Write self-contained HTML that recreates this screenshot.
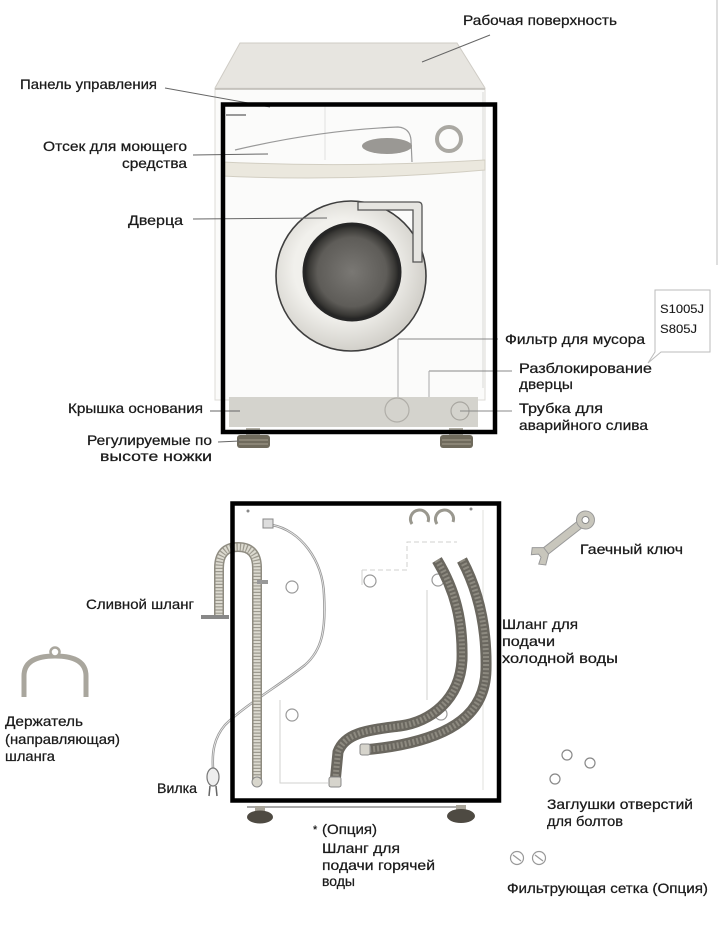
<!DOCTYPE html>
<html><head><meta charset="utf-8"><style>
html,body{margin:0;padding:0;background:#fff;}
svg{display:block;}
text{font-family:"Liberation Sans",Arial,sans-serif;fill:#1a1a1a;stroke:#1a1a1a;stroke-width:0.25;}
</style></head><body>
<svg width="720" height="925" viewBox="0 0 720 925" xmlns="http://www.w3.org/2000/svg">
<defs>
<radialGradient id="glass" cx="50%" cy="50%" r="50%">
<stop offset="0" stop-color="#7a7874"/><stop offset="0.72" stop-color="#5e5c58"/><stop offset="0.9" stop-color="#3a3936"/><stop offset="1" stop-color="#1e1e1e"/>
</radialGradient>
<radialGradient id="ring" cx="45%" cy="45%" r="55%">
<stop offset="0.6" stop-color="#f1f0ec"/><stop offset="1" stop-color="#d2d0ca"/>
</radialGradient>
</defs>
<rect width="720" height="925" fill="#fff"/>
<line x1="717" y1="0" x2="717" y2="265" stroke="#d4d4d4" stroke-width="1.5"/>

<!-- ===== TOP MACHINE ===== -->
<polygon points="240,43 457,43 485,88 215,88" fill="#e7e5e0" stroke="#cfccc5" stroke-width="1"/>
<rect x="215" y="88" width="270" height="312" fill="#fbfbfa" stroke="#dcdbd7" stroke-width="1"/>
<line x1="215" y1="89" x2="485" y2="89" stroke="#bdbab3" stroke-width="1.5"/>
<line x1="325" y1="106" x2="325" y2="160" stroke="#e2e2e0" stroke-width="1"/>
<rect x="226" y="114" width="20" height="2" fill="#999"/>
<line x1="483" y1="92" x2="483" y2="388" stroke="#d8d8d6" stroke-width="1"/>
<path d="M222,162 Q350,168 485,160 L485,170 Q350,182 222,176 Z" fill="#ebe8de" stroke="#d2cec2" stroke-width="1"/>
<path d="M235,150 Q320,130 398,127 Q410,128 411,140 L412,162" fill="none" stroke="#999" stroke-width="1.2"/>
<ellipse cx="387" cy="146" rx="25" ry="8" fill="#9a9894"/>
<circle cx="449" cy="139" r="12" fill="none" stroke="#aaa8a2" stroke-width="4"/>
<!-- door -->
<circle cx="351" cy="276" r="75" fill="url(#ring)" stroke="#3e3e3e" stroke-width="1.6"/>
<path d="M358,202 L418,202 Q422,202 422,206 L422,262 L413,262 L413,210 L358,210 Z" fill="#e6e5e1" stroke="#555" stroke-width="1.3"/>
<circle cx="352" cy="272" r="48" fill="url(#glass)" stroke="#262626" stroke-width="3"/>
<!-- lower details -->
<line x1="398" y1="339" x2="498" y2="339" stroke="#888" stroke-width="1"/>
<line x1="398" y1="339" x2="398" y2="398" stroke="#aaa" stroke-width="1"/>
<line x1="429" y1="371" x2="512" y2="371" stroke="#888" stroke-width="1"/>
<line x1="429" y1="371" x2="429" y2="414" stroke="#aaa" stroke-width="1"/>
<rect x="229" y="397" width="249" height="30" fill="#d4d3cd"/>
<circle cx="397" cy="410" r="12" fill="none" stroke="#b0aea8" stroke-width="1.2"/>
<circle cx="460" cy="411" r="9" fill="none" stroke="#a8a6a0" stroke-width="1.2"/>
<line x1="460" y1="411" x2="512" y2="411" stroke="#888" stroke-width="1"/>
<!-- feet -->
<rect x="246" y="428" width="14" height="8" fill="#b5b2a8"/>
<rect x="237" y="435" width="33" height="13" rx="3" fill="#6f6a5c"/>
<line x1="239" y1="440" x2="268" y2="440" stroke="#a49f8e" stroke-width="1"/>
<line x1="239" y1="444" x2="268" y2="444" stroke="#a49f8e" stroke-width="1"/>
<rect x="449" y="428" width="14" height="8" fill="#b5b2a8"/>
<rect x="440" y="435" width="33" height="13" rx="3" fill="#6f6a5c"/>
<line x1="442" y1="440" x2="471" y2="440" stroke="#a49f8e" stroke-width="1"/>
<line x1="442" y1="444" x2="471" y2="444" stroke="#a49f8e" stroke-width="1"/>

<g stroke="#666" stroke-width="1" fill="none">
<line x1="490" y1="35" x2="422" y2="62"/>
<line x1="165" y1="88" x2="270" y2="107"/>
<line x1="193" y1="155" x2="268" y2="154"/>
<line x1="193" y1="219" x2="327" y2="218"/>
<line x1="210" y1="411" x2="240" y2="411"/>
<line x1="218" y1="442" x2="240" y2="441"/>
</g>
<path d="M655,290 L710,290 L710,352 L661,352 L648,363 L655,352 Z" fill="#fff" stroke="#bbb" stroke-width="1"/>
<text x="660" y="313" font-size="12" textLength="44" lengthAdjust="spacingAndGlyphs" style="stroke-width:0.1">S1005J</text>
<text x="660" y="333" font-size="12" textLength="37" lengthAdjust="spacingAndGlyphs" style="stroke-width:0.1">S805J</text>

<g font-size="14">
<text x="463" y="25" textLength="154" lengthAdjust="spacingAndGlyphs">Рабочая поверхность</text>
<text x="20" y="89" textLength="137" lengthAdjust="spacingAndGlyphs">Панель управления</text>
<text x="43" y="151" textLength="144" lengthAdjust="spacingAndGlyphs">Отсек для моющего</text>
<text x="122" y="168" textLength="65" lengthAdjust="spacingAndGlyphs">средства</text>
<text x="128" y="225" textLength="55" lengthAdjust="spacingAndGlyphs">Дверца</text>
<text x="505" y="344" textLength="140" lengthAdjust="spacingAndGlyphs">Фильтр для мусора</text>
<text x="519" y="373" textLength="133" lengthAdjust="spacingAndGlyphs">Разблокирование</text>
<text x="519" y="389" textLength="54" lengthAdjust="spacingAndGlyphs">дверцы</text>
<text x="519" y="413" textLength="84" lengthAdjust="spacingAndGlyphs">Трубка для</text>
<text x="519" y="430" textLength="129" lengthAdjust="spacingAndGlyphs">аварийного слива</text>
<text x="68" y="413" textLength="135" lengthAdjust="spacingAndGlyphs">Крышка основания</text>
<text x="87" y="445" textLength="125" lengthAdjust="spacingAndGlyphs">Регулируемые по</text>
<text x="100" y="461" textLength="112" lengthAdjust="spacingAndGlyphs">высоте ножки</text>
</g>

<rect x="223" y="104.5" width="272" height="327.5" fill="none" stroke="#000" stroke-width="4.5"/>

<!-- ===== BOTTOM SECTION ===== -->
<line x1="483" y1="510" x2="483" y2="790" stroke="#e0e0de" stroke-width="1"/>
<line x1="247" y1="807" x2="463" y2="807" stroke="#aaa" stroke-width="2"/>
<g fill="none" stroke="#d2d2cf" stroke-width="1">
<path d="M362,570 L407,570 L407,542 L457,542" stroke-dasharray="5 3"/>
<line x1="427" y1="590" x2="427" y2="700"/>
<path d="M280,700 L280,783 L328,783"/>
<line x1="362" y1="570" x2="362" y2="585"/>
</g>
<circle cx="248" cy="511" r="1.5" fill="#888"/>
<circle cx="471" cy="509" r="1.5" fill="#888"/>
<g fill="none" stroke="#9a988f" stroke-width="3">
<path d="M412,524 A9,9 0 1 1 428,522"/>
<path d="M437,524 A9,9 0 1 1 453,522"/>
</g>
<g fill="#fff" stroke="#999" stroke-width="1.2">
<circle cx="292" cy="587" r="6"/>
<circle cx="370" cy="581" r="6"/>
<circle cx="438" cy="580" r="6"/>
<circle cx="292" cy="715" r="6"/>
<circle cx="441" cy="714" r="6"/>
</g>
<path d="M272,525 C300,530 323,560 324,595 C326,630 322,650 305,665 C280,685 245,705 225,725 C214,738 212,752 213,768" fill="none" stroke="#999" stroke-width="2.5"/>
<path d="M272,525 C300,530 323,560 324,595 C326,630 322,650 305,665 C280,685 245,705 225,725 C214,738 212,752 213,768" fill="none" stroke="#eee" stroke-width="0.8"/>
<rect x="263" y="519" width="10" height="9" fill="#ddd" stroke="#888" stroke-width="1"/>
<ellipse cx="213" cy="777" rx="6" ry="9" fill="#eee" stroke="#777" stroke-width="1.2"/>
<line x1="210" y1="786" x2="209" y2="796" stroke="#666" stroke-width="1.5"/>
<line x1="216" y1="786" x2="217" y2="796" stroke="#666" stroke-width="1.5"/>
<path d="M219,617 L219,568 Q219,547 238,547 Q257,547 257,568 L257,783" fill="none" stroke="#8e8b80" stroke-width="10"/>
<path d="M219,617 L219,568 Q219,547 238,547 Q257,547 257,568 L257,783" fill="none" stroke="#dcdad0" stroke-width="7"/>
<path d="M219,617 L219,568 Q219,547 238,547 Q257,547 257,568 L257,783" fill="none" stroke="#9c998e" stroke-width="7" stroke-dasharray="1.2 2"/>
<rect x="201" y="615" width="28" height="4" fill="#888"/>
<rect x="257" y="580" width="11" height="4" fill="#999"/>
<circle cx="257" cy="782" r="5" fill="#d8d6cc" stroke="#888" stroke-width="1"/>
<path d="M437,560 C455,590 463,620 462,660 C460,700 430,722 400,726 C370,730 345,732 338,752 L335,783" fill="none" stroke="#6a675f" stroke-width="11"/>
<path d="M437,560 C455,590 463,620 462,660 C460,700 430,722 400,726 C370,730 345,732 338,752 L335,783" fill="none" stroke="#8d8a80" stroke-width="6" stroke-dasharray="2 2"/>
<path d="M462,560 C478,590 487,625 486,670 C485,715 450,735 400,745 C385,748 375,749 363,750" fill="none" stroke="#6a675f" stroke-width="11"/>
<path d="M462,560 C478,590 487,625 486,670 C485,715 450,735 400,745 C385,748 375,749 363,750" fill="none" stroke="#8d8a80" stroke-width="6" stroke-dasharray="2 2"/>
<rect x="329" y="777" width="12" height="10" rx="2" fill="#d6d4cc" stroke="#888" stroke-width="1"/>
<rect x="360" y="744" width="10" height="11" rx="2" fill="#d6d4cc" stroke="#888" stroke-width="1"/>
<rect x="255" y="806" width="10" height="6" fill="#a9a59a"/>
<ellipse cx="260" cy="817" rx="13" ry="6.5" fill="#4e4a42"/>
<rect x="456" y="805" width="10" height="6" fill="#a9a59a"/>
<ellipse cx="461" cy="816" rx="14" ry="7" fill="#4e4a42"/>

<rect x="232.5" y="503.5" width="266.5" height="297" fill="none" stroke="#000" stroke-width="4.5"/>

<path d="M24,697 L24,676 Q24,656 55,656 Q86,656 86,676 L86,697" fill="none" stroke="#a9a69d" stroke-width="5"/>
<circle cx="55" cy="652" r="4.5" fill="#fff" stroke="#a9a69d" stroke-width="2.5"/>
<g transform="translate(565,536) rotate(-38)">
<rect x="-26" y="-4" width="46" height="8" fill="#c8c6bc" stroke="#999" stroke-width="1"/>
<circle cx="26" cy="0" r="9" fill="#c8c6bc" stroke="#999" stroke-width="1"/>
<circle cx="26" cy="0" r="3.5" fill="#fff" stroke="#888" stroke-width="1"/>
<path d="M-24,-4 L-33,-11 L-38,-6 L-32,-2 L-32,2 L-38,6 L-33,11 L-24,4 Z" fill="#c8c6bc" stroke="#999" stroke-width="1"/>
</g>
<g fill="#fff" stroke="#888" stroke-width="1.2">
<circle cx="567" cy="755" r="5"/>
<circle cx="590" cy="763" r="5"/>
<circle cx="555" cy="779" r="5"/>
</g>
<g fill="#fff" stroke="#999" stroke-width="1.2">
<circle cx="517" cy="858" r="6.5"/>
<circle cx="539" cy="858" r="6.5"/>
<line x1="513" y1="855" x2="521" y2="861"/>
<line x1="535" y1="855" x2="543" y2="861"/>
</g>

<g font-size="14">
<text x="86" y="609" textLength="108" lengthAdjust="spacingAndGlyphs">Сливной шланг</text>
<text x="5" y="726" textLength="78" lengthAdjust="spacingAndGlyphs">Держатель</text>
<text x="5" y="744" textLength="115" lengthAdjust="spacingAndGlyphs">(направляющая)</text>
<text x="5" y="761" textLength="50" lengthAdjust="spacingAndGlyphs">шланга</text>
<text x="157" y="793" textLength="40" lengthAdjust="spacingAndGlyphs">Вилка</text>
<text x="580" y="554" textLength="103" lengthAdjust="spacingAndGlyphs">Гаечный ключ</text>
<text x="502" y="629" textLength="76" lengthAdjust="spacingAndGlyphs">Шланг для</text>
<text x="502" y="646" textLength="53" lengthAdjust="spacingAndGlyphs">подачи</text>
<text x="502" y="663" textLength="116" lengthAdjust="spacingAndGlyphs">холодной воды</text>
<text x="313" y="833" font-size="11">*</text>
<text x="322" y="834" textLength="55" lengthAdjust="spacingAndGlyphs">(Опция)</text>
<text x="322" y="853" textLength="78" lengthAdjust="spacingAndGlyphs">Шланг для</text>
<text x="322" y="870" textLength="113" lengthAdjust="spacingAndGlyphs">подачи горячей</text>
<text x="322" y="886" textLength="33" lengthAdjust="spacingAndGlyphs">воды</text>
<text x="547" y="809" textLength="146" lengthAdjust="spacingAndGlyphs">Заглушки отверстий</text>
<text x="547" y="826" textLength="76" lengthAdjust="spacingAndGlyphs">для болтов</text>
<text x="507" y="893" textLength="201" lengthAdjust="spacingAndGlyphs">Фильтрующая сетка (Опция)</text>
</g>
</svg>
</body></html>
